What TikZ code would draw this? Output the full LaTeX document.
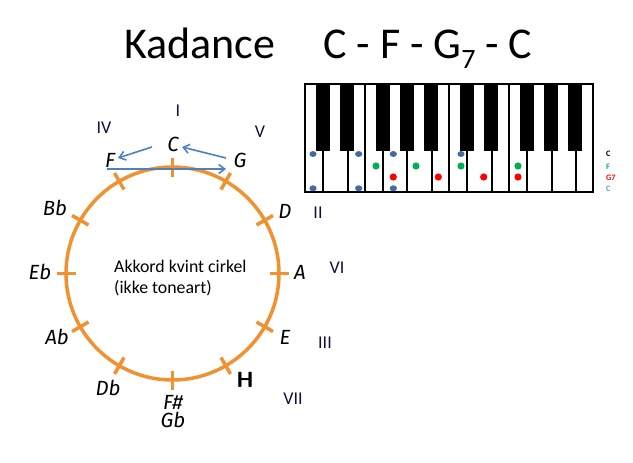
\documentclass[tikz,border=0pt]{standalone}
\usepackage{fontspec}
\setmainfont{Carlito}
\newfontfamily\handfont{Fira Sans}
\usetikzlibrary{arrows.meta}
\definecolor{ringorange}{RGB}{240,146,50}
\definecolor{arrowblue}{RGB}{79,129,189}
\definecolor{dotblue}{RGB}{68,106,160}
\definecolor{dotgreen}{RGB}{0,176,80}
\definecolor{dotred}{RGB}{255,0,0}
\definecolor{romanblue}{RGB}{15,15,60}
\definecolor{tealF}{RGB}{0,176,150}
\definecolor{lightC}{RGB}{91,155,213}
\begin{document}
\begin{tikzpicture}[x=1pt,y=-1pt,
  ring/.style={draw=ringorange,line width=3.5pt},
  tickmark/.style={draw=ringorange,line width=3.5pt},
  hand/.style={font=\handfont\itshape\fontsize{20.5}{20.5}\selectfont,inner sep=0pt},
  roman/.style={font=\fontsize{18}{18}\selectfont,text=romanblue,inner sep=0pt},
  conn/.style={draw=arrowblue,line width=1.6pt,-{Straight Barb[length=6pt,width=9pt,line width=1.6pt]}},
  bkey/.style={fill=black},
  wkey/.style={draw=black,line width=1.2pt},
  keylabel/.style={font=\bfseries\fontsize{8.3}{8.3}\selectfont,inner sep=0pt,anchor=west}
]
\useasboundingbox (0,0) rectangle (633,463);

% title
\node[anchor=base west,inner sep=0pt,font=\fontsize{44}{44}\selectfont] (title) at (124,58) {Kadance};
\node[anchor=base west,inner sep=0pt,font=\fontsize{44}{44}\selectfont] (chords) at (323,58) {C - F - G\raisebox{-10pt}{\fontsize{28}{28}\selectfont 7} - C};

% keyboard
\draw[wkey] (305,84) rectangle (593,192);
\foreach \x in {323,348,365,383,407,432,449,467,492,509,527,552,576}
  \draw[line width=1.2pt] (\x,84) -- (\x,192);
\foreach \x in {316,340,376,400,424,460,484,520,544,568}
  \fill[bkey] (\x,84) rectangle (\x+14,151);
% dots
\foreach \x/\y in {313/154,358.7/154,393.3/154,461/154,313/188.3,358.7/188.3,393.3/188.3}
  \fill[dotblue] (\x,\y) ellipse[x radius=3.6,y radius=3];
\foreach \x in {376,416,461,518}
  \fill[dotgreen] (\x,166) circle[radius=3.6];
\foreach \x in {393.3,438.3,483.7,518}
  \fill[dotred] (\x,177) circle[radius=3.6];
\node[keylabel,text=black] (k1) at (606,154.3) {C};
\node[keylabel,text=tealF] (k2) at (606,166.5) {F};
\node[keylabel,text=dotred] (k3) at (606,177.7) {G7};
\node[keylabel,text=lightC] (k4) at (606,188.5) {C};

% circle of fifths
\coordinate (O) at (172.5,273.5);
\draw[ring] (O) circle[radius=106.5];
\foreach \a in {0,30,...,330}
  \draw[tickmark] (O) ++(\a:97) -- ++(\a:19);

\node[hand] (lC) at (173,144) {C};
\node[hand] (lF) at (110,160) {F};
\node[hand] (lG) at (240,160) {G};
\node[hand] (lD) at (285,211) {D};
\node[hand] (lA) at (300,272) {A};
\node[hand] (lE) at (285,337) {E};
\node[inner sep=0pt,font=\sffamily\bfseries\fontsize{22}{22}\selectfont] (lH) at (245,380) {H};
\node[hand] (lFs) at (173,402) {F\#};
\node[hand] (lGb) at (173,420) {Gb};
\node[hand] (lDb) at (108,388) {Db};
\node[hand] (lAb) at (57,337) {Ab};
\node[hand] (lEb) at (40,272) {Eb};
\node[hand] (lBb) at (55,208) {Bb};

\node[roman] (r1) at (178,111) {I};
\node[roman] (r4) at (104,128) {IV};
\node[roman] (r5) at (260,132) {V};
\node[roman] (r2) at (318,213) {II};
\node[roman] (r6) at (337,268) {VI};
\node[roman] (r3) at (325,343) {III};
\node[roman] (r7) at (293,399) {VII};

\node[anchor=west,align=left,inner sep=0pt,font=\fontsize{17.8}{20.5}\selectfont] (center) at (114,278) {Akkord kvint cirkel\\(ikke toneart)};

% arrows
\coordinate (a1s) at (152,147);
\coordinate (a1e) at (118,158);
\coordinate (a2s) at (226,158);
\coordinate (a2e) at (182,147);
\coordinate (a3s) at (107,169);
\coordinate (a3e) at (226,169);
\draw[conn] (a1s) -- (a1e);
\draw[conn] (a2s) -- (a2e);
\draw[conn] (a3s) -- (a3e);
\end{tikzpicture}
\end{document}
